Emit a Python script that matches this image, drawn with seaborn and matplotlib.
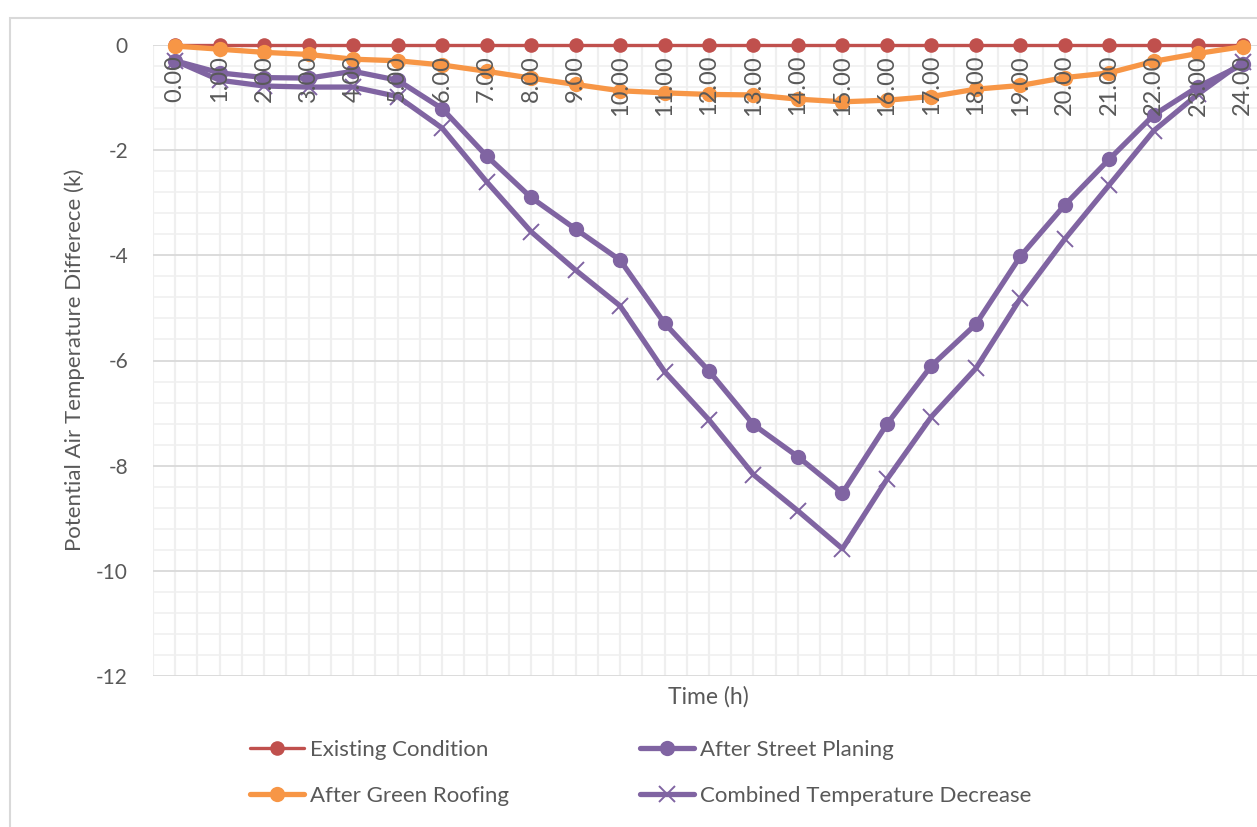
import matplotlib
matplotlib.use("Agg")
import matplotlib.pyplot as plt
import matplotlib.lines as mlines
import matplotlib.patches as mpatches
from matplotlib.ticker import MultipleLocator
import numpy as np
import pandas as pd
import seaborn as sns

# ---- data ----
hours = list(range(25))
hour_labels = [f"{h}.00" for h in hours]

existing = [0.0] * 25
street_planing = [-0.30, -0.53, -0.62, -0.63, -0.50, -0.67, -1.21, -2.11, -2.90, -3.50,
                  -4.09, -5.29, -6.20, -7.22, -7.83, -8.52, -7.21, -6.10, -5.31, -4.02,
                  -3.04, -2.17, -1.33, -0.79, -0.37]
green_roofing = [-0.02, -0.08, -0.14, -0.18, -0.27, -0.30, -0.38, -0.50, -0.63, -0.75,
                 -0.87, -0.91, -0.94, -0.95, -1.03, -1.08, -1.05, -0.98, -0.84, -0.77,
                 -0.62, -0.53, -0.31, -0.16, -0.03]
combined = [-0.30, -0.67, -0.78, -0.80, -0.80, -0.98, -1.58, -2.60, -3.55, -4.28,
            -4.96, -6.21, -7.13, -8.17, -8.86, -9.58, -8.26, -7.07, -6.15, -4.82,
            -3.69, -2.66, -1.63, -0.93, -0.32]

series_names = ["Existing Condition", "After Street Planing",
                "After Green Roofing", "Combined Temperature Decrease"]
y_ticks = [0, -2, -4, -6, -8, -10, -12]

RED = "#C0504D"
PURPLE = "#8064A2"
ORANGE = "#F79646"
TEXT = "#595959"

sns.set_theme(style="white")
plt.rcParams["font.family"] = ["Lato", "DejaVu Sans"]

W, H = 1257, 827
fig = plt.figure(figsize=(W / 100, H / 100), dpi=100)

def fx(px):
    return px / W

def fy(py):
    return 1 - py / H

# chart frame
fig.patches.append(mpatches.Rectangle((fx(10), fy(900)), fx(1400), fy(18) - fy(900),
                                      transform=fig.transFigure, fill=False,
                                      edgecolor="#d9d9d9", linewidth=1.5))

left, right, top, bottom = 153, 1265, 45, 676
ax = fig.add_axes([fx(left), fy(bottom), fx(right - left), fy(top) - fy(bottom)])
ax.set_facecolor("white")
ax.set_xlim(-0.5, 24.5)
ax.set_ylim(-12, 0)

# grid
ax.yaxis.set_major_locator(MultipleLocator(2))
ax.yaxis.set_minor_locator(MultipleLocator(0.4))
ax.xaxis.set_major_locator(MultipleLocator(1))
ax.xaxis.set_minor_locator(MultipleLocator(0.5))
ax.grid(which="minor", axis="y", color="#f0f0f0", linewidth=1.2, zorder=0)
ax.grid(which="major", axis="y", color="#d9d9d9", linewidth=1.3, zorder=0.5)
ax.grid(which="minor", axis="x", color="#efefef", linewidth=1.6, zorder=0)
ax.grid(which="major", axis="x", color="#efefef", linewidth=1.6, zorder=0)
ax.set_axisbelow(True)
for s in ax.spines.values():
    s.set_visible(False)

# y ticks
ax.set_yticks(y_ticks)
ax.set_yticklabels([str(v) for v in y_ticks])
ax.tick_params(axis="y", which="both", length=0, pad=18, labelsize=15, labelcolor=TEXT)
ax.tick_params(axis="x", which="both", length=0, labelbottom=False)

# series
df = pd.DataFrame({
    "hour": hours * 4,
    "value": existing + street_planing + green_roofing + combined,
    "series": np.repeat(series_names, 25),
})

styles = {
    "Existing Condition": dict(color=RED, lw=2.4, marker="o", ms=10.5, mew=0),
    "After Street Planing": dict(color=PURPLE, lw=3.8, marker="o", ms=11, mew=0),
    "After Green Roofing": dict(color=ORANGE, lw=3.8, marker="o", ms=11, mew=0),
    "Combined Temperature Decrease": dict(color=PURPLE, lw=3.8, marker="x", ms=11, mew=1.4),
}
for i, name in enumerate(series_names):
    st = styles[name]
    sub = df[df["series"] == name]
    sns.lineplot(data=sub, x="hour", y="value", ax=ax, color=st["color"],
                 linewidth=st["lw"], marker=st["marker"], markersize=st["ms"],
                 markeredgewidth=st["mew"], markeredgecolor=st["color"],
                 markerfacecolor=st["color"], legend=False, zorder=3 + i,
                 clip_on=False)
ax.set_xlabel("")
ax.set_ylabel("")

# category labels inside the plot, hanging under the zero line
for h, lab in zip(hours, hour_labels):
    ax.text(h, -0.19, lab, rotation=90, ha="center", va="top", fontsize=17,
            color=TEXT, zorder=10)

# axis titles
fig.text(fx(75), fy(360), "Potential Air Temperature Differece (k)", rotation=90,
         ha="center", va="center", fontsize=16, color=TEXT)
fig.text(fx(708), fy(697), "Time (h)", ha="center", va="center", fontsize=16.5, color=TEXT)

# legend entries
legend_pos = {
    "Existing Condition": (250, 750),
    "After Street Planing": (640, 750),
    "After Green Roofing": (250, 796),
    "Combined Temperature Decrease": (640, 796),
}
for name in series_names:
    st = styles[name]
    handle = mlines.Line2D([], [], color=st["color"], linewidth=st["lw"],
                           marker=st["marker"], markersize=st["ms"],
                           markeredgewidth=st["mew"], markeredgecolor=st["color"],
                           markerfacecolor=st["color"])
    px, py = legend_pos[name]
    fig.legend(handles=[handle], labels=[name], loc="center left",
               bbox_to_anchor=(fx(px), fy(py)), bbox_transform=fig.transFigure,
               frameon=False, fontsize=16, labelcolor=TEXT, borderpad=0,
               borderaxespad=0, handlelength=2.45, handletextpad=0.25)

fig.savefig("out.png", dpi=100)
